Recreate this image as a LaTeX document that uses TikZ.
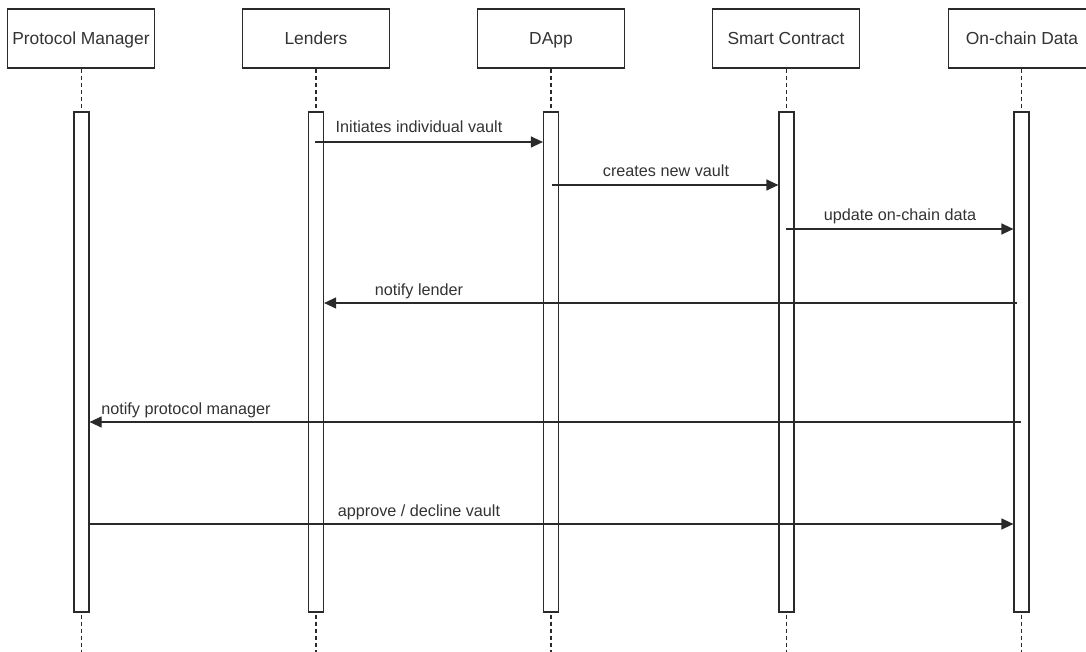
\documentclass[tikz,border=0pt]{standalone}
\usepackage{fontspec}
\setmainfont{Liberation Sans}
\usetikzlibrary{arrows.meta}
\definecolor{ln}{HTML}{2A2A2A}
\definecolor{tx}{HTML}{333333}
\begin{document}
\begin{tikzpicture}[x=1pt,y=-1pt,
  actor/.style={draw=ln, line width=1.2pt, minimum width=147pt, minimum height=59pt, inner sep=0pt, text height=16pt, text depth=3pt, font=\fontsize{17.4}{20}\selectfont, text=tx},
  bar/.style={draw=ln, line width=1.2pt, fill=white, minimum width=15pt, minimum height=500pt, inner sep=0pt},
  life/.style={draw=ln, line width=1.2pt, dash pattern=on 4pt off 3pt},
  msg/.style={draw=ln, line width=1.2pt, -{Triangle[length=12pt,width=11pt]}},
  lbl/.style={font=\fontsize{16.2}{19}\selectfont, text=tx, anchor=base, inner sep=0pt}]
\useasboundingbox (0,0) rectangle (1086,652);
\clip (0,0) rectangle (1086,652);
\fill[white] (0,0) rectangle (1086,652);
% actors
\node[actor] (P) at (81,38.5) {Protocol Manager};
\node[actor] (L) at (316,38.5) {Lenders};
\node[actor] (D) at (551,38.5) {DApp};
\node[actor] (S) at (786,38.5) {Smart Contract};
\node[actor] (O) at (1022,38.5) {On-chain Data};
% bottom ends of lifelines
\coordinate (Pe) at (81.5,652);
\coordinate (Le) at (316,652);
\coordinate (De) at (551,652);
\coordinate (Se) at (786.5,652);
\coordinate (Oe) at (1021.5,652);
% lifelines
\draw[life] (P.south -| Pe) -- (Pe);
\draw[life] (L.south -| Le) -- (Le);
\draw[life] (D.south -| De) -- (De);
\draw[life] (S.south -| Se) -- (Se);
\draw[life] (O.south -| Oe) -- (Oe);
% activation bars
\node[bar] (Pb) at (81.5,362) {};
\node[bar] (Lb) at (316,362) {};
\node[bar] (Db) at (551,362) {};
\node[bar] (Sb) at (786.5,362) {};
\node[bar] (Ob) at (1021.5,362) {};
% message end points
\coordinate (m1a) at (315,142);
\coordinate (m2a) at (552,185);
\coordinate (m3a) at (786,229);
\coordinate (m4a) at (1017,303);
\coordinate (m5a) at (1021,422);
\coordinate (m6a) at (89,524);
% messages
\draw[msg] (m1a) -- (Db.west |- m1a);
\node[lbl] (t1) at (419,133) {Initiates individual vault};
\draw[msg] (m2a) -- (Sb.west |- m2a);
\node[lbl] (t2) at (666,177) {creates new vault};
\draw[msg] (m3a) -- (Ob.west |- m3a);
\node[lbl] (t3) at (900,221) {update on-chain data};
\draw[msg] (m4a) -- (Lb.east |- m4a);
\node[lbl] (t4) at (419,295) {notify lender};
\draw[msg] (m5a) -- (Pb.east |- m5a);
\node[lbl] (t5) at (186,414) {notify protocol manager};
\draw[msg] (Pb.east |- m6a) -- (Ob.west |- m6a);
\node[lbl] (t6) at (419,516) {approve / decline vault};
\end{tikzpicture}
\end{document}
